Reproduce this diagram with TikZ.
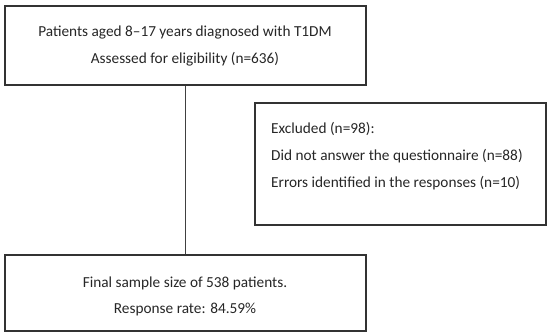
\documentclass[tikz,border=0pt]{standalone}
\usepackage{fontspec}
\setmainfont{Carlito}
\begin{document}
\begin{tikzpicture}[x=1pt,y=-1pt,
  box/.style={draw=black!80,line width=1.5pt,inner sep=0pt,minimum width=#1},
  txt/.style={font=\fontsize{15.3}{18}\selectfont,text=black!85,inner sep=0pt,anchor=base},
  conn/.style={draw=black!75,line width=1.1pt}]
\useasboundingbox (0,0) rectangle (550,336);
\node[box=361pt,minimum height=79pt] (top) at (185.5,45.5) {};
\node[box=361pt,minimum height=76pt] (bot) at (185.5,293) {};
\node[box=291pt,minimum height=122pt] (exc) at (400.5,164) {};
\node[txt] (t1) at (185,37) {Patients aged 8–17 years diagnosed with T1DM};
\node[txt] (t2) at (185,64) {Assessed for eligibility (n=636)};
\node[txt,anchor=base west] (e1) at (271,134) {Excluded (n=98):};
\node[txt,anchor=base west] (e2) at (271,161) {Did not answer the questionnaire (n=88)};
\node[txt,anchor=base west] (e3) at (271,188) {Errors identified in the responses (n=10)};
\node[txt] (b1) at (185,288) {Final sample size of 538 patients.};
\node[txt] (b2) at (185,314) {Response rate: 84.59\%};
\draw[conn] (top.south) -- (bot.north);
\end{tikzpicture}
\end{document}
